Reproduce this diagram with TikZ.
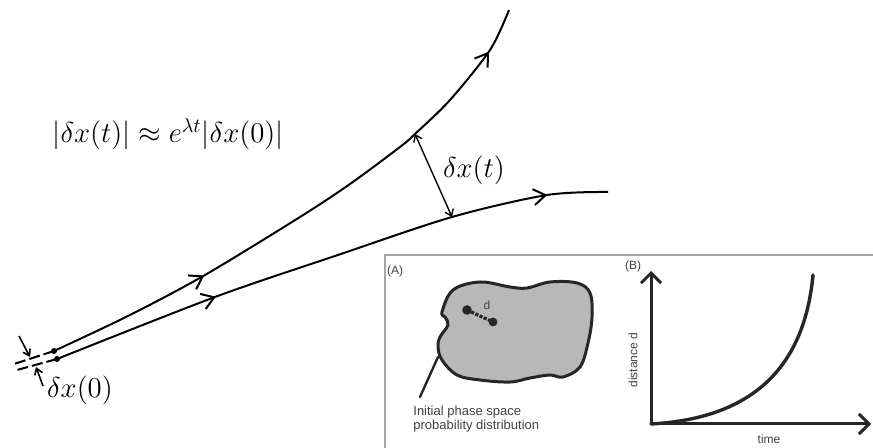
\documentclass[tikz,border=0pt]{standalone}
\usepackage{fontspec}
\usepackage{amsmath}
\newfontfamily\insetfont{Liberation Sans}
\usetikzlibrary{arrows.meta,calc,decorations.markings}

\begin{document}
\begin{tikzpicture}[x=0.5pt,y=-0.5pt,
 traj/.style={line width=1pt,postaction={decorate}},
 chevron/.tip={Straight Barb[length=6pt,width=8pt,line width=1pt]},
 barb/.style={-{Straight Barb[length=3pt,width=4pt]},line width=0.8pt},
 gap/.style={{Straight Barb[length=3pt,width=4.5pt]}-{Straight Barb[length=3pt,width=4.5pt]},line width=0.7pt},
 ext/.style={line width=1pt,dash pattern=on 5.5pt off 2pt},
 math/.style={font=\fontsize{14}{16}\selectfont,inner sep=0pt},
 inset/.style={font=\insetfont\fontsize{6}{7}\selectfont,text=black!75,inner sep=0pt},
 thickline/.style={line width=1.5pt,draw=black!85,line join=round,line cap=round}]
\useasboundingbox (0,0) rectangle (873,448);

% two neighbouring trajectories
\coordinate (a0) at (54,351);
\coordinate (a1) at (205,275);
\coordinate (a2) at (415,134);
\coordinate (a3) at (490,50);
\coordinate (a4) at (509,10);
\coordinate (b0) at (57,359);
\coordinate (b1) at (215,297);
\coordinate (b2) at (452,217);
\coordinate (b3) at (547,195);
\coordinate (b4) at (608,192);
\draw[traj,decoration={markings,
   mark=at position 0.29 with {\arrow{chevron}},
   mark=at position 0.92 with {\arrow{chevron}}}]
  plot[smooth] coordinates {(a0) (130,315) (a1) (300,217) (350,184) (400,147)
    (a2) (450,100) (a3) (a4)};
\draw[traj,decoration={markings,
   mark=at position 0.295 with {\arrow{chevron}},
   mark=at position 0.895 with {\arrow{chevron}}}]
  plot[smooth] coordinates {(b0) (b1) (335,256) (b2) (b3) (b4)};
\fill (a0) circle (1.5pt);
\fill (b0) circle (1.5pt);

% initial separation
\coordinate (aext) at (14,364);
\coordinate (bext) at (17,370);
\coordinate (mtop) at (19,336);
\coordinate (mtopend) at (30,357);
\coordinate (mbot) at (43,386);
\coordinate (mbotend) at (36,367);
\draw[ext] (a0) -- (aext);
\draw[ext] (b0) -- (bext);
\draw[barb] (mtop) -- (mtopend);
\draw[barb] (mbot) -- (mbotend);
\node[math] (sep0) at (80,390) {$\delta x(0)$};

% separation at time t
\draw[gap] (a2) -- (b2);
\node[math] (sept) at (474,170) {$\delta x(t)$};
\node[math] (growth) at (168,134) {$|\delta x(t)| \approx e^{\lambda t}|\delta x(0)|$};

% inset frame
\coordinate (fbl) at (385,449);
\coordinate (ftl) at (385,255);
\coordinate (ftr) at (874,255);
\draw[black!35,line width=0.6pt] (fbl) -- (ftl) -- (ftr);

% panel A
\node[inset] (labA) at (395,271) {(A)};
\draw[thickline,fill=black!28] plot[smooth cycle,tension=0.6] coordinates {
  (442,312) (453,290) (480,282) (510,287) (527,288) (550,282) (577,283)
  (590,293) (592,317) (588,343) (580,367) (563,377) (550,375) (530,378)
  (510,382) (480,380) (457,375) (442,360) (438,347) (440,337) (448,325)
  (445,317)};
\coordinate (ptop) at (438,357);
\coordinate (pbot) at (420,397);
\draw[thickline,line width=1.2pt] (ptop) -- (pbot);
\coordinate (d1) at (467,310);
\coordinate (d2) at (493,322);
\draw[line width=1.6pt,black!85,dash pattern=on 1.6pt off 0.7pt] (d1) -- (d2);
\fill[black!85] (d1) circle (2.4pt);
\fill[black!85] (d2) circle (2.2pt);
\node[inset] (labd) at (487,305) {d};
\node[inset,anchor=north west,align=left,font=\insetfont\fontsize{6.5}{7}\selectfont]
  (caption) at (413,406) {Initial phase space\\probability distribution};

% panel B
\node[inset] (labB) at (633,266) {(B)};
\coordinate (orig) at (651,424);
\coordinate (ytip) at (651,271);
\coordinate (xtip) at (871,424);
\coordinate (ctop) at (813,275);
\draw[thickline,-{Straight Barb[length=5pt,width=10pt,line width=1.5pt]}] (orig) -- (ytip);
\draw[thickline,-{Straight Barb[length=5pt,width=10pt,line width=1.5pt]}] (orig) -- (xtip);
\draw[thickline,line width=1.7pt] (orig) .. controls (760,418) and (805,360) .. (ctop);
\node[inset,rotate=90] (ylab) at (633,360) {distance d};
\node[inset] (xlab) at (769,439) {time};
\end{tikzpicture}
\end{document}
